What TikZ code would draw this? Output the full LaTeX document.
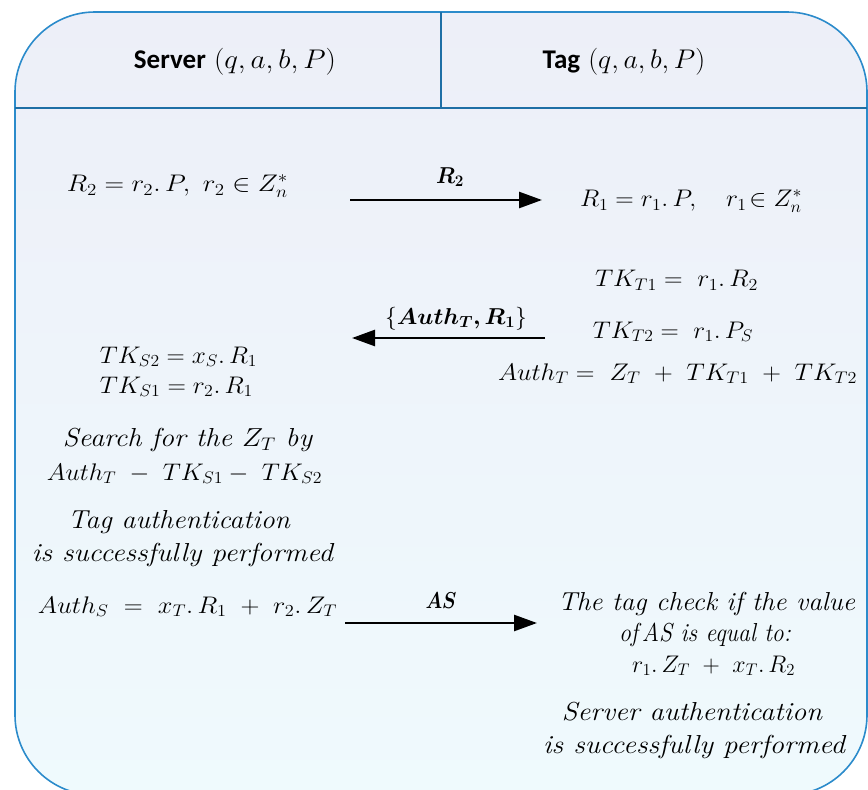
\RequirePackage{fix-cm}
\documentclass[tikz,border=0pt]{standalone}
\usepackage{amsmath,bm}
\usepackage{graphicx}
\usepackage{fontspec}
\newfontfamily\calibri{Carlito}
\usetikzlibrary{arrows.meta}
\definecolor{bordercol}{HTML}{2B8BCB}
\definecolor{divcol}{HTML}{1E6FA6}
\definecolor{bgA}{HTML}{EDEFF8}
\definecolor{bgB}{HTML}{EFFAFD}
\newcommand\fw[2]{\resizebox{#1pt}{\height}{#2}}
\begin{document}
\begin{tikzpicture}[x=1pt,y=-1pt,
  eq/.style={anchor=base, inner sep=0pt, font=\fontsize{24}{28}\selectfont},
  txt/.style={anchor=base, inner sep=0pt, font=\fontsize{26}{30}\selectfont\itshape},
  hdr/.style={anchor=base, inner sep=0pt, font=\fontsize{27}{31}\selectfont},
  msg/.style={line width=2.6pt, -{Triangle[length=23pt,width=16pt]}},
  lbl/.style={anchor=base, inner sep=0pt, font=\fontsize{23}{27}\selectfont}]
\useasboundingbox (0,0) rectangle (868,790);
\shade[draw=bordercol, line width=1.6pt, rounded corners=80pt, top color=bgA, bottom color=bgB] (15,12) rectangle (867,795);
% dividers
\coordinate (hl) at (15,108); \coordinate (hr) at (867,108);
\coordinate (vt) at (441,12); \coordinate (vb) at (441,108);
\draw[divcol, line width=2pt] (hl) -- (hr);
\draw[divcol, line width=2pt] (vt) -- (vb);
% headers
\node[hdr] (hdrS) at (235,68) {{\calibri\bfseries Server}\ \fw{122}{$(q, a, b, P)$}};
\node[hdr] (hdrT) at (624,68) {{\calibri\bfseries Tag}\ \fw{117}{$(q, a, b, P)$}};
% server side
\node[eq] (eqR2) at (177.5,191.7) {\fw{221}{$R_2 = r_2.\,P,\ r_2 \in Z_n^*$}};
\node[eq] (eqTKS2) at (178.5,363) {\fw{157}{$TK_{S2} = x_S.\,R_1$}};
\node[eq] (eqTKS1) at (176.5,393) {\fw{153}{$TK_{S1} = r_2.\,R_1$}};
\node[txt] (srch1) at (187.5,446.7) {\fw{249}{Search for the $Z_T$ by}};
\node[eq] (srch2) at (184.5,480) {\fw{275}{$Auth_T\ -\ TK_{S1} - \ TK_{S2}$}};
\node[txt] (tga1) at (179,528) {\fw{222}{Tag authentication}};
\node[txt] (tga2) at (182.5,561.7) {\fw{301}{is successfully performed}};
\node[eq] (authS) at (187.5,613) {\fw{299}{$Auth_S\ =\ x_T.\,R_1\ +\ r_2.\,Z_T$}};
% tag side
\node[eq] (eqR1) at (691,206.7) {\fw{222}{$R_1 = r_1.\,P,\quad r_1\!\in Z_n^*$}};
\node[eq] (eqTKT1) at (676.5,286.7) {\fw{163}{$TK_{T1} =\ r_1.\,R_2$}};
\node[eq] (eqTKT2) at (673,338) {\fw{160}{$TK_{T2} =\ r_1.\,P_S$}};
\node[eq] (authT) at (677.5,380) {\fw{359}{$Auth_T =\ Z_T\ +\ TK_{T1}\ +\ TK_{T2}$}};
\node[txt] (chk1) at (706.5,610.5) {\fw{297}{The tag check if the value}};
\node[txt] (chk2) at (705,641) {\fw{172}{of\,AS\ is equal to:}};
\node[eq] (chk3) at (713.5,672) {\fw{163}{$r_1.\,Z_T\ +\ x_T.\,R_2$}};
\node[txt] (sva1) at (692,720) {\fw{260}{Server authentication}};
\node[txt] (sva2) at (694,753) {\fw{302}{is successfully performed}};
% messages
\coordinate (m1a) at (350,200); \coordinate (m1b) at (542,200);
\coordinate (m2a) at (545,338); \coordinate (m2b) at (352,338);
\coordinate (m3a) at (345,623); \coordinate (m3b) at (537,623);
\draw[msg] (m1a) -- (m1b);
\draw[msg] (m2a) -- (m2b);
\draw[msg] (m3a) -- (m3b);
\node[lbl] (l1) at (450,183) {\fw{28}{$\bm{R_2}$}};
\node[lbl] (l2) at (456,324) {\fw{142}{$\{\bm{Auth_T, R_1}\}$}};
\node[lbl] (l3) at (441,608) {\fw{31}{$\bm{AS}$}};
\end{tikzpicture}
\end{document}
